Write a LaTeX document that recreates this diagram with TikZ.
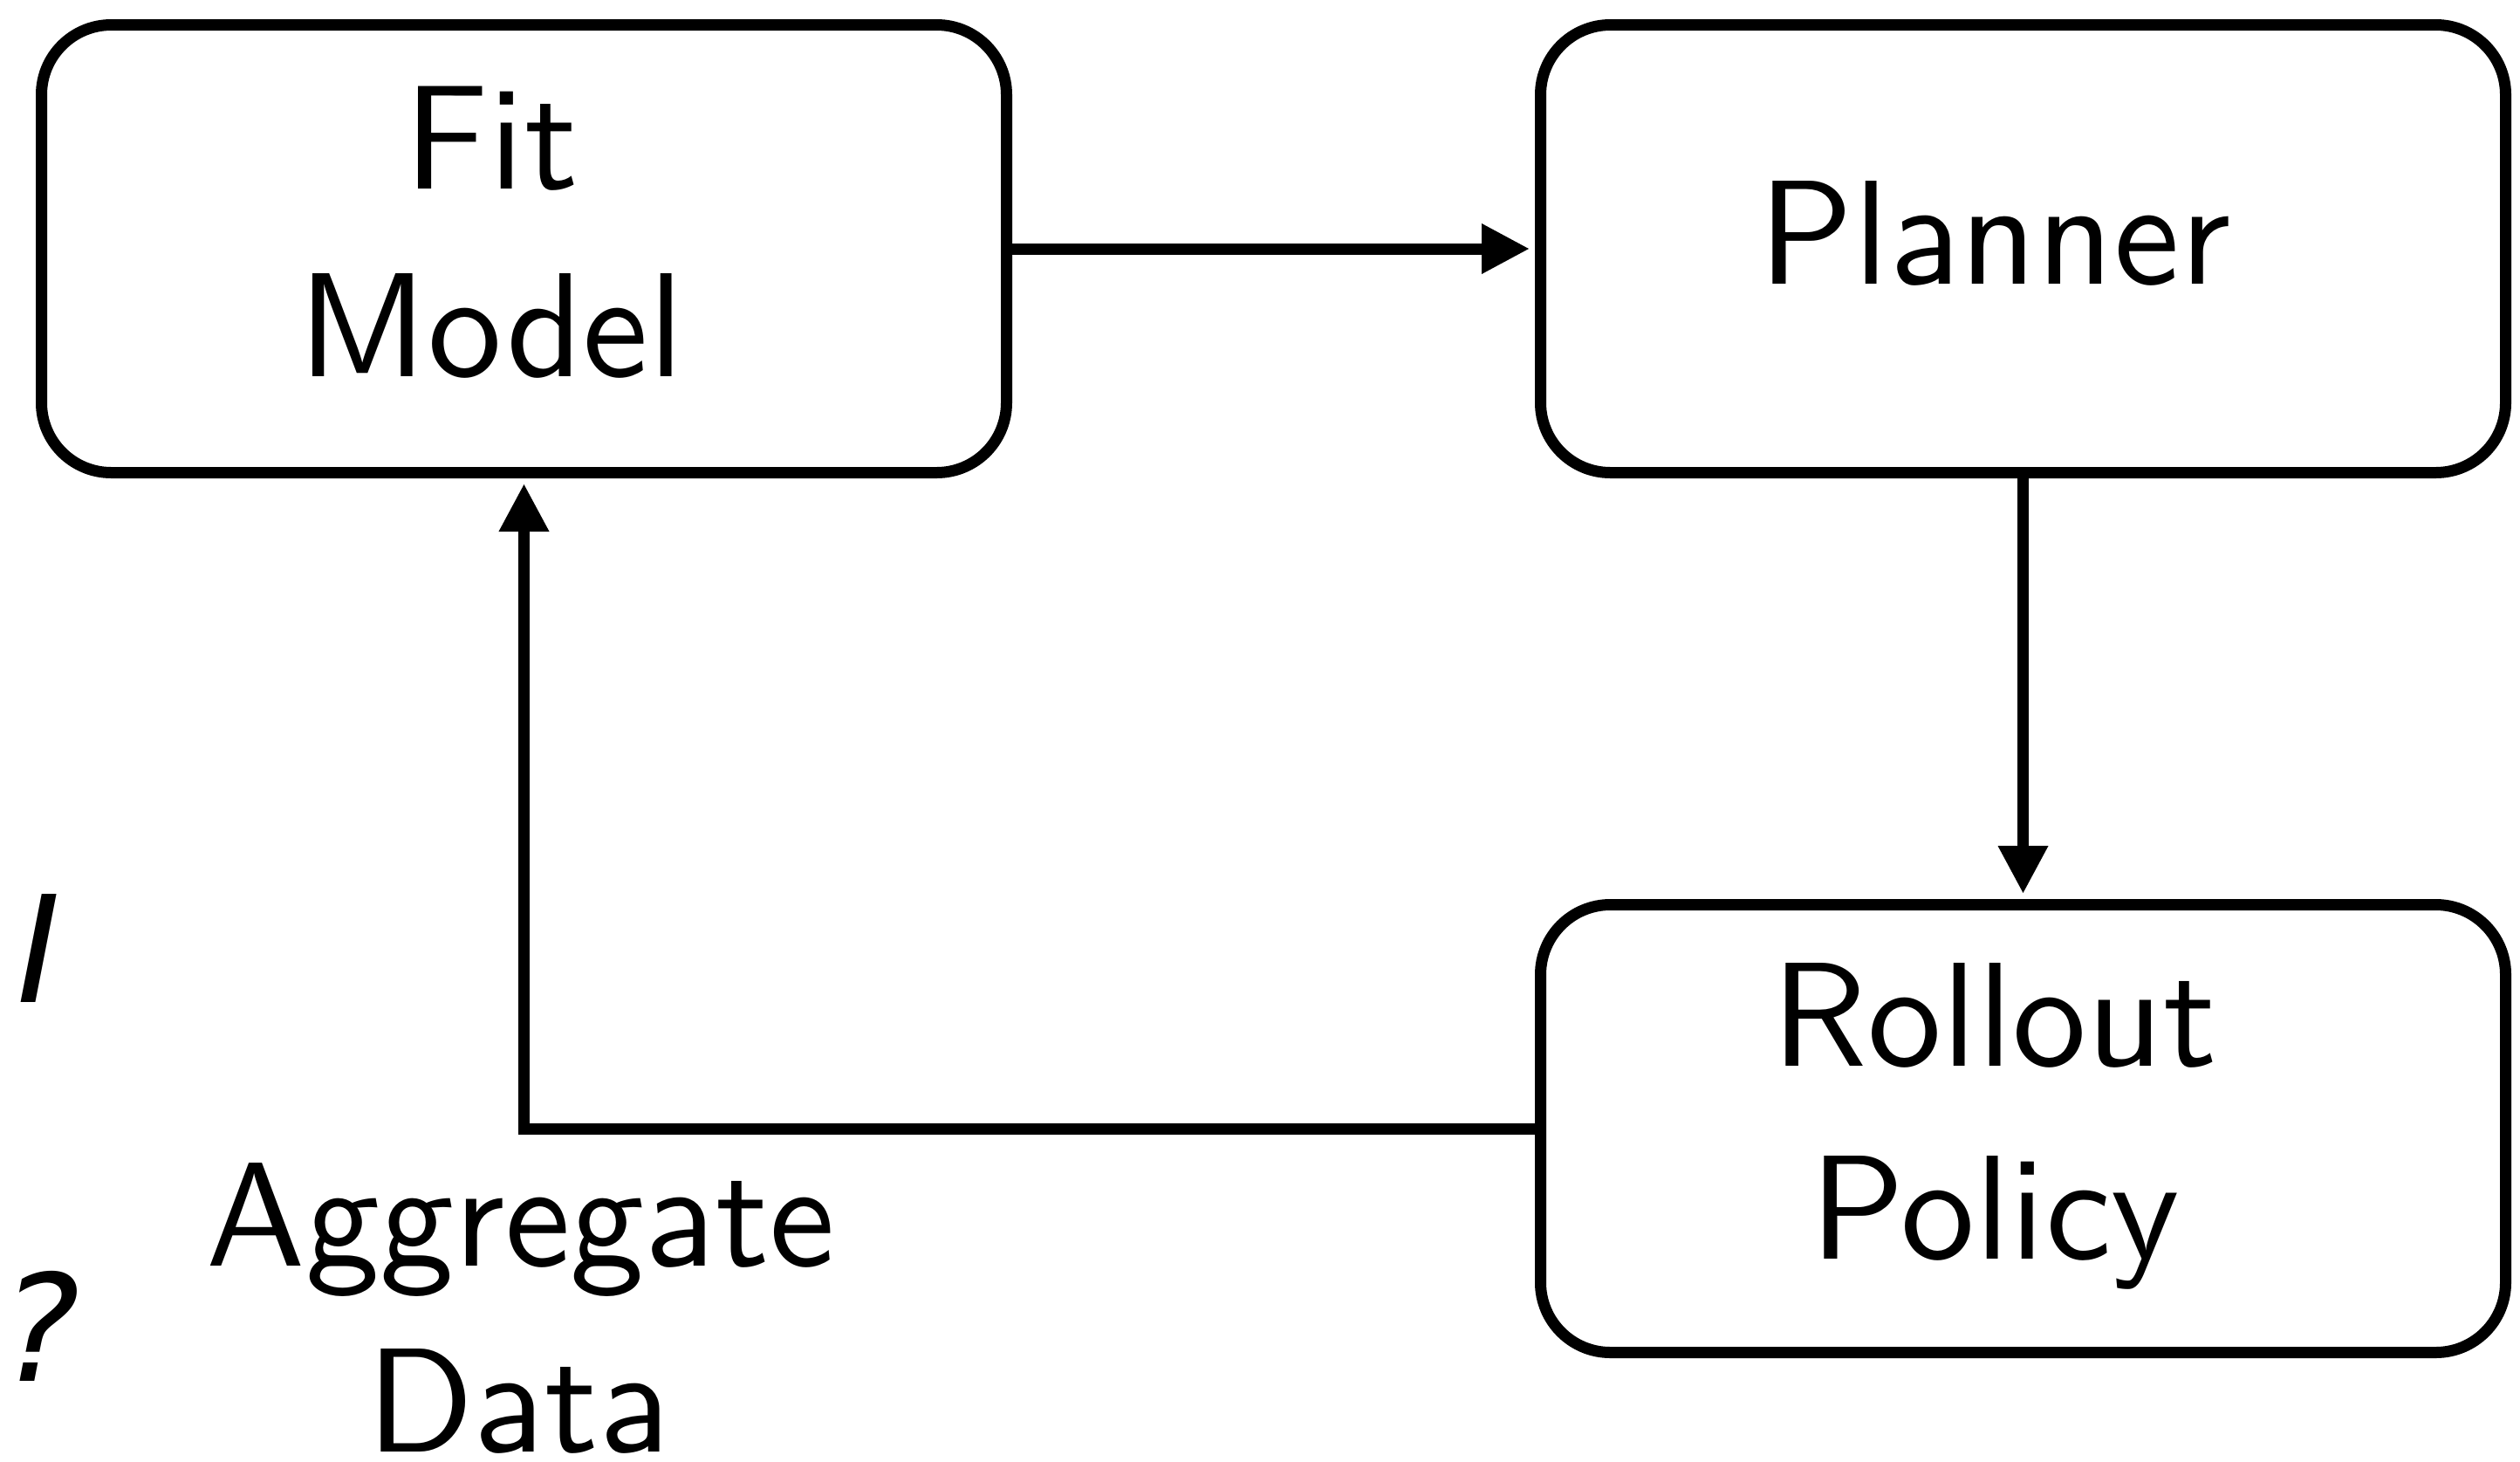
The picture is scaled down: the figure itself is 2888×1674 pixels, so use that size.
\documentclass[tikz,border=0pt]{standalone}
\usepackage{fontspec}
\newfontfamily\djv{DejaVu Sans}
\newfontfamily\lmsten{lmsans10-regular.otf}
\usetikzlibrary{arrows.meta}
\begin{document}
\begin{tikzpicture}[x=1pt,y=-1pt,
  box/.style={draw,line width=13pt,rounded corners=80pt,minimum width=1106pt,minimum height=513pt,inner sep=0pt,anchor=north west},
  lbl/.style={font=\fontsize{170}{216}\selectfont\lmsten,anchor=base,inner sep=0pt},
  glyph/.style={font=\fontsize{170}{216}\selectfont\djv\itshape,anchor=base,inner sep=0pt},
  arr/.style={line width=13pt,-{Triangle[length=55pt,width=54pt]},shorten >=6pt}
]
\useasboundingbox (0,0) rectangle (2888,1674);
\node[box] (fit) at (41,22) {};
\node[box] (plan) at (1759,22) {};
\node[box] (roll) at (1759,1030) {};
\node[lbl] (t1) at (563,216) {Fit};
\node[lbl] (t2) at (563,431) {Model};
\node[lbl] (t3) at (2286,325) {Planner};
\node[lbl] (t4) at (2286,1221) {Rollout};
\node[lbl] (t5) at (2286,1442) {Policy};
\node[lbl] (t6) at (597,1450) {Aggregate};
\node[lbl] (t7) at (594,1663) {Data};
\node[glyph] (g1) at (45,1148) {I};
\node[glyph] (g2) at (47,1582) {?};
\draw[arr] (fit.east) -- (plan.west);
\draw[arr] (plan.south) -- (roll.north);
\draw[arr] (roll.west) -| (fit.south);
\end{tikzpicture}
\end{document}
